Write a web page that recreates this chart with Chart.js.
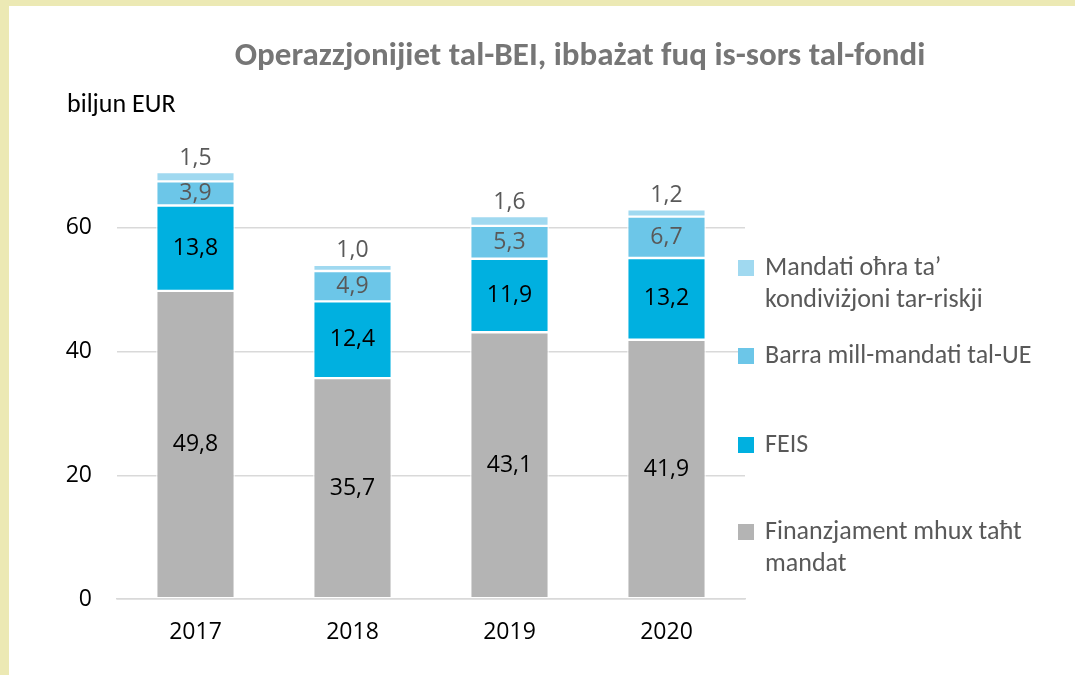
<!DOCTYPE html>
<html>
<head>
<meta charset="utf-8">
<script src="https://cdn.jsdelivr.net/npm/chart.js@4.4.1/dist/chart.umd.min.js"></script>
<style>
  html, body { margin: 0; padding: 0; background: #fff; }
  #wrap { position: relative; width: 1075px; height: 675px; box-sizing: border-box;
          border-top: 6px solid #ece9b4; border-left: 9px solid #ece9b4; background: #fff; }
  #wrap canvas { position: absolute; left: -9px; top: -6px; }
</style>
</head>
<body>
<div id="wrap"><canvas id="c" width="1075" height="675"></canvas></div>
<script>
const FONT = "Carlito, Lato, 'Open Sans', sans-serif";
const NUMFONT = "'Open Sans', Lato, sans-serif";
const categories = ["2017", "2018", "2019", "2020"];
const finanzjament = [49.8, 35.7, 43.1, 41.9];
const feis = [13.8, 12.4, 11.9, 13.2];
const barra = [3.9, 4.9, 5.3, 6.7];
const mandati = [1.5, 1.0, 1.6, 1.2];
const yTicks = [0, 20, 40, 60];
const seriesNames = [
  ["Finanzjament mhux taħt", "mandat"],
  ["FEIS"],
  ["Barra mill-mandati tal-UE"],
  ["Mandati oħra ta’", "kondiviżjoni tar-riskji"]
];
const colors = ["#b4b4b4", "#00b0e0", "#6cc6e8", "#a0d9f0"];
const labelColors = ["#000000", "#000000", "#595959", "#595959"];
const titleText = "Operazzjonijiet tal-BEI, ibbażat fuq is-sors tal-fondi";
const unitText = "biljun EUR";

const series = [finanzjament, feis, barra, mandati];
const fmt = v => v.toFixed(1).replace('.', ',');

const labelsPlugin = {
  id: 'customLabels',
  afterDatasetsDraw(chart) {
    const ctx = chart.ctx;
    ctx.save();
    ctx.font = "23px " + NUMFONT;
    ctx.textAlign = 'center';
    ctx.textBaseline = 'middle';
    chart.data.datasets.forEach((ds, di) => {
      const meta = chart.getDatasetMeta(di);
      meta.data.forEach((bar, i) => {
        const v = ds.data[i];
        ctx.fillStyle = labelColors[di];
        if (di === 3) {
          ctx.fillText(fmt(v), bar.x, bar.y - 14);
        } else {
          ctx.fillText(fmt(v), bar.x, (bar.y + bar.base) / 2);
        }
      });
    });
    ctx.restore();
  },
  afterDraw(chart) {
    const ctx = chart.ctx;
    const ca = chart.chartArea;
    ctx.save();
    // title
    ctx.font = "bold 33px " + FONT;
    ctx.fillStyle = '#767676';
    ctx.textAlign = 'center';
    ctx.textBaseline = 'middle';
    ctx.fillText(titleText, 580, 57);
    // unit
    ctx.font = "26px " + FONT;
    ctx.fillStyle = '#000';
    ctx.textAlign = 'left';
    ctx.fillText(unitText, 67, 105);
    // legend
    const legendY = [532, 445, 356, 268];
    ctx.font = "26px " + FONT;
    for (let k = 3; k >= 0; k--) {
      const y = legendY[k];
      ctx.fillStyle = colors[k];
      ctx.fillRect(ca.right - 7, y - 8, 16, 16);
      ctx.fillStyle = '#595959';
      ctx.textAlign = 'left';
      seriesNames[k].forEach((line, li) => {
        ctx.fillText(line, ca.right + 20, y + li * 32);
      });
    }
    ctx.restore();
  }
};

new Chart(document.getElementById('c'), {
  type: 'bar',
  data: {
    labels: categories,
    datasets: series.map((d, k) => ({
      label: seriesNames[k].join(' '),
      data: d,
      backgroundColor: colors[k],
      borderColor: '#ffffff',
      borderWidth: 1.2,
      borderSkipped: false,
      barPercentage: 0.5,
      categoryPercentage: 1.0
    }))
  },
  options: {
    responsive: false,
    animation: false,
    layout: { padding: { left: 0, top: 104, right: 330, bottom: 0 } },
    plugins: { legend: { display: false }, title: { display: false }, tooltip: { enabled: false } },
    scales: {
      x: {
        stacked: true,
        grid: { display: false, drawTicks: false },
        border: { display: true, color: '#d9d9d9', width: 1.5 },
        ticks: { color: '#000', font: { family: NUMFONT, size: 23 }, padding: 20 },
        afterFit(s) { s.height = 76; }
      },
      y: {
        stacked: true,
        min: 0, max: 80,
        afterBuildTicks(s) { s.ticks = yTicks.concat([80]).map(v => ({ value: v })); },
        grid: {
          color: ctx => (ctx.tick && ctx.tick.value === 80) ? 'rgba(0,0,0,0)' : '#d9d9d9',
          lineWidth: 1.5, drawTicks: false
        },
        border: { display: false },
        ticks: {
          color: '#000', font: { family: NUMFONT, size: 23 }, padding: 25,
          callback: v => (v === 80 ? '' : String(v))
        },
        afterFit(s) { s.width = 117; }
      }
    }
  },
  plugins: [labelsPlugin]
});
</script>
</body>
</html>
